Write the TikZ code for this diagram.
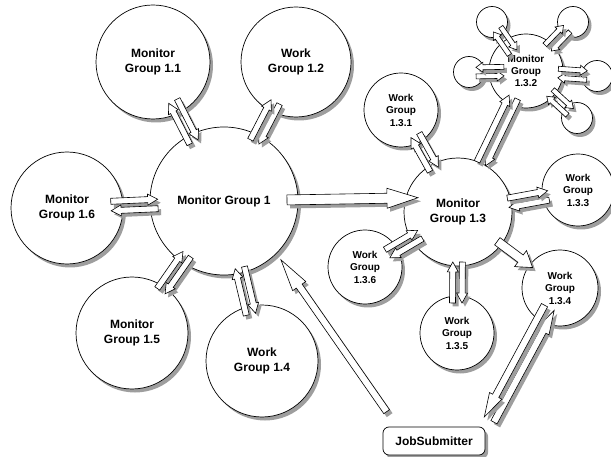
\documentclass[tikz,border=0pt]{standalone}
\usepackage{fontspec}
\setmainfont{Liberation Sans}
\usetikzlibrary{calc}
\definecolor{shgray}{RGB}{158,158,158}
\tikzset{
 grp/.style={circle, draw=black, line width=0.7pt, fill=white, align=center, inner sep=0pt,
   font=\bfseries\fontsize{12}{14.5}\selectfont},
 sgrp/.style={grp, font=\bfseries\fontsize{10}{12.5}\selectfont},
 tgrp/.style={grp, font=\bfseries\fontsize{10}{11.7}\selectfont},
 diam/.style={minimum size=#1pt},
 jsbox/.style={draw=black, line width=0.7pt, fill=white, rounded corners=6pt, minimum width=102pt,
   minimum height=28pt, font=\bfseries\fontsize{12}{14.5}\selectfont},
 shadowfill/.style={fill=shgray, draw=none},
 abody/.style={fill=white, draw=black, line width=0.6pt, line join=miter},
}
% circle node with its drop shadow: style, name, x, y, diameter, text
\newcommand\grpnode[6]{%
 \fill[shadowfill] (#3+3,#4+3.5) circle[radius=#5/2];
 \node[#1,diam=#5] (#2) at (#3,#4) {#6};}
% block arrow outline between named coordinates baS, baE, shifted by (#1,#2)
\newcommand\blkshape[2]{($(baS)!\bsw!90:(baE)+(#1,#2)$) -- ($(baH)!\bsw!-90:(baS)+(#1,#2)$) -- ($(baH)!\bhw!-90:(baS)+(#1,#2)$) -- ($(baE)+(#1,#2)$) -- ($(baH)!\bhw!90:(baS)+(#1,#2)$) -- ($(baH)!\bsw!90:(baS)+(#1,#2)$) -- ($(baS)!\bsw!-90:(baE)+(#1,#2)$) -- cycle}
\newcommand\blkarrow[5]{%
 \coordinate (baS) at (#1); \coordinate (baE) at (#2);
 \coordinate (baH) at ($(baE)!#5pt!(baS)$);
 \def\bsw{#3pt}\def\bhw{#4pt}%
 \path[shadowfill] \blkshape{3}{3.5};
 \path[abody] \blkshape{0}{0};}
% single arrow along line A->B, from distance s to e
\newcommand\blkline[7]{%
 \coordinate (blS) at ($(#1)!#3pt!(#2)$);
 \coordinate (blE) at ($(#1)!#4pt!(#2)$);
 \blkarrow{blS}{blE}{#5}{#6}{#7}}
% pair of opposite arrows along A--B
\newcommand\blkpair[9]{%
 \pgfmathsetmacro\bpneg{-1*(#5)}%
 \coordinate (bpA1) at ($(#1)!#6pt!#5:(#2)$);
 \coordinate (bpB1) at ($(#2)!#6pt!\bpneg:(#1)$);
 \coordinate (bpA2) at ($(#1)!#6pt!\bpneg:(#2)$);
 \coordinate (bpB2) at ($(#2)!#6pt!#5:(#1)$);
 \coordinate (bpS1) at ($(bpA1)!#3pt!(bpB1)$);
 \coordinate (bpE1) at ($(bpA1)!#4pt!(bpB1)$);
 \coordinate (bpS2) at ($(bpA2)!#4pt!(bpB2)$);
 \coordinate (bpE2) at ($(bpA2)!#3pt!(bpB2)$);
 \blkarrow{bpS1}{bpE1}{#7}{#8}{#9}%
 \blkarrow{bpS2}{bpE2}{#7}{#8}{#9}}
\begin{document}
\begin{tikzpicture}[x=1pt,y=-1pt]
\useasboundingbox (0,0) rectangle (611,457);
% nodes
\grpnode{grp}{mg1}{224}{201}{148}{Monitor Group 1}
\grpnode{grp}{mg11}{153}{62}{114}{Monitor\\Group 1.1}
\grpnode{grp}{wg12}{296}{62}{110}{Work\\Group 1.2}
\grpnode{grp}{mg16}{67}{208}{112}{Monitor\\Group 1.6}
\grpnode{grp}{mg15}{132}{333}{112}{Monitor\\Group 1.5}
\grpnode{grp}{wg14}{262}{361}{112}{Work\\Group 1.4}
\grpnode{grp}{mg13}{458}{212}{108}{Monitor\\Group 1.3}
\grpnode{sgrp}{wg131}{401}{110}{74}{Work\\Group\\1.3.1}
\grpnode{tgrp}{mg132}{526}{71}{74}{Monitor\\Group\\1.3.2}
\grpnode{sgrp}{wg133}{578}{190}{72}{Work\\Group\\1.3.3}
\grpnode{sgrp}{wg134}{560}{288}{76}{Work\\Group\\1.3.4}
\grpnode{sgrp}{wg135}{457}{333}{74}{Work\\Group\\1.3.5}
\grpnode{sgrp}{wg136}{365}{267}{74}{Work\\Group\\1.3.6}
\grpnode{grp}{s1}{492}{22}{31}{}
\grpnode{grp}{s2}{573}{22}{31}{}
\grpnode{grp}{s3}{469}{72}{31}{}
\grpnode{grp}{s4}{597}{76}{31}{}
\grpnode{grp}{s5}{577}{118}{31}{}
\fill[shadowfill, rounded corners=6pt] (386,430.5) rectangle (488,458.5);
\node[jsbox] (js) at (434,441) {JobSubmitter};
% arrow pairs around Monitor Group 1
\blkpair{mg11.center}{mg1.center}{44}{90}{90}{4.75}{3}{5.5}{10}
\blkpair{wg12.center}{mg1.center}{45}{90}{90}{4.75}{3}{5.5}{10}
\blkpair{mg16.center}{mg1.center}{44}{91}{90}{4.75}{3}{5.5}{10}
\blkpair{mg15.center}{mg1.center}{51}{96}{90}{4.75}{3}{5.5}{10}
\blkpair{wg14.center}{mg1.center}{48}{96}{90}{4.75}{3}{5.5}{10}
% arrow pairs around Monitor Group 1.3
\blkpair{wg131.center}{mg13.center}{29}{68}{90}{4.75}{3}{5.5}{10}
\blkpair{mg132.center}{mg13.center}{29}{103}{90}{4.75}{3}{5.5}{10}
\blkpair{wg133.center}{mg13.center}{30}{71}{90}{4.75}{3}{5.5}{10}
\blkpair{wg135.center}{mg13.center}{30}{71}{90}{4.75}{3}{5.5}{10}
\blkpair{wg136.center}{mg13.center}{26}{64}{90}{4.75}{3}{5.5}{10}
% arrow pairs around Monitor Group 1.3.2
\blkpair{s1.center}{mg132.center}{9}{37}{90}{4.5}{2.5}{5}{7}
\blkpair{s2.center}{mg132.center}{9}{36}{90}{4.5}{2.5}{5}{7}
\blkpair{s3.center}{mg132.center}{7}{35}{-90}{4.5}{2.5}{5}{7}
\blkpair{s4.center}{mg132.center}{10}{39}{90}{4.5}{2.5}{5}{7}
\blkpair{s5.center}{mg132.center}{9}{37}{90}{4.5}{2.5}{5}{7}
% JobSubmitter <-> Work Group 1.3.4
\blkpair{js.north east}{wg134.center}{8}{135}{-90}{5.5}{3.5}{7}{24}
% single arrows
\blkline{mg1.center}{mg13.165}{63}{194}{5}{10}{31}
\blkline{mg13.center}{wg134.center}{49}{93}{4.5}{10}{15}
\coordinate (jst) at ($(js.north west)+(4,-15)$);
\blkline{jst}{mg1.-45}{0}{185}{3.5}{8}{32}
\end{tikzpicture}
\end{document}
